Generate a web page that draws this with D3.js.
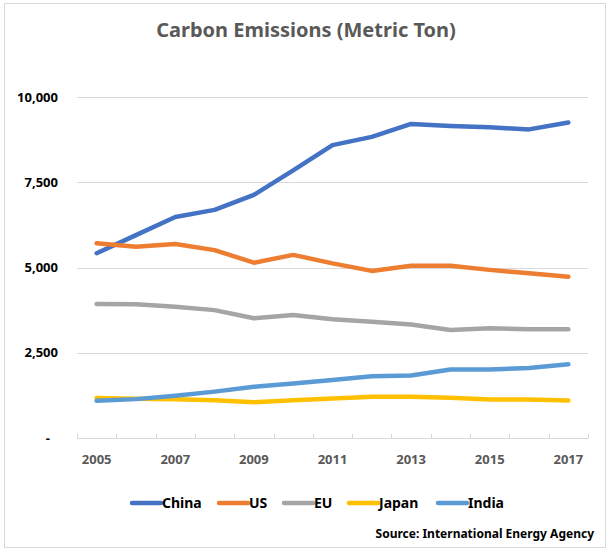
<!DOCTYPE html>
<html>
<head>
<meta charset="utf-8">
<script src="https://cdn.jsdelivr.net/npm/d3@7"></script>
<style>
  body { margin: 0; background: #fff; }
  text { font-family: "Noto Sans", sans-serif; font-weight: bold; }
</style>
</head>
<body>
<div id="chart"></div>
<script>
// data
const years = [2005, 2006, 2007, 2008, 2009, 2010, 2011, 2012, 2013, 2014, 2015, 2016, 2017];
const china = [5420, 5950, 6480, 6690, 7130, 7850, 8590, 8830, 9210, 9150, 9110, 9050, 9250];
const us    = [5710, 5610, 5690, 5510, 5140, 5370, 5120, 4900, 5050, 5050, 4930, 4830, 4730];
const eu    = [3930, 3920, 3850, 3750, 3510, 3610, 3480, 3410, 3330, 3170, 3220, 3190, 3190];
const japan = [1170, 1150, 1140, 1110, 1050, 1110, 1160, 1210, 1210, 1180, 1130, 1130, 1100];
const india = [1090, 1140, 1240, 1360, 1500, 1600, 1700, 1810, 1830, 2010, 2010, 2050, 2160];
const seriesNames = ["China", "US", "EU", "Japan", "India"];
const seriesColors = ["#4472C4", "#ED7D31", "#A5A5A5", "#FFC000", "#5B9BD5"];
const yTicks = [0, 2500, 5000, 7500, 10000];

const width = 611, height = 552;
const margin = { top: 97, right: 23, bottom: 114, left: 77 };
const innerW = width - margin.left - margin.right;
const innerH = height - margin.top - margin.bottom;

const svg = d3.select("#chart").append("svg")
    .attr("width", width)
    .attr("height", height);

// chart border
svg.append("rect")
    .attr("x", 4.5).attr("y", 3.5)
    .attr("width", 601).attr("height", 544)
    .attr("fill", "#fff")
    .attr("stroke", "#d9d9d9");

svg.append("text")
    .attr("x", 306).attr("y", 37)
    .attr("text-anchor", "middle")
    .attr("fill", "#595959")
    .style("font-size", "20px")
    .text("Carbon Emissions (Metric Ton)");

const g = svg.append("g")
    .attr("transform", "translate(" + margin.left + "," + margin.top + ")");

const x = d3.scaleBand().domain(years).range([0, innerW]);
const y = d3.scaleLinear().domain([0, 10000]).range([innerH, 0]);
const cx = d => x(d) + x.bandwidth() / 2;

// gridlines
g.append("g")
    .selectAll("line")
    .data(yTicks.filter(d => d > 0))
    .join("line")
    .attr("x1", 0).attr("x2", innerW)
    .attr("y1", d => Math.round(y(d)) + 0.5)
    .attr("y2", d => Math.round(y(d)) + 0.5)
    .attr("stroke", "#d9d9d9");

// y labels
g.append("g")
    .selectAll("text")
    .data(yTicks)
    .join("text")
    .attr("x", d => d === 0 ? -27 : -19)
    .attr("y", d => y(d))
    .attr("dy", "0.35em")
    .attr("text-anchor", "end")
    .attr("fill", "#000")
    .style("font-size", "13px")
    .text(d => d === 0 ? "-" : d3.format(",")(d));

// x axis line + ticks at band edges
const xAxis = g.append("g").attr("transform", "translate(0," + (Math.round(innerH) + 0.5) + ")");
xAxis.append("line")
    .attr("x1", 0).attr("x2", innerW)
    .attr("stroke", "#d9d9d9");
xAxis.selectAll(".tick")
    .data(years.map(d => x(d)).concat([innerW]))
    .join("line")
    .attr("class", "tick")
    .attr("x1", d => Math.round(d) + 0.5).attr("x2", d => Math.round(d) + 0.5)
    .attr("y1", -5).attr("y2", 0)
    .attr("stroke", "#d9d9d9");
xAxis.selectAll(".lbl")
    .data(years.filter(d => d % 2 === 1))
    .join("text")
    .attr("class", "lbl")
    .attr("x", cx)
    .attr("y", 21)
    .attr("dy", "0.35em")
    .attr("text-anchor", "middle")
    .attr("fill", "#595959")
    .style("font-size", "13px")
    .text(d => d);

// lines
const allSeries = [china, us, eu, japan, india];
const line = d3.line()
    .x((d, i) => cx(years[i]))
    .y(d => y(d));

g.append("g")
    .selectAll("path")
    .data(allSeries)
    .join("path")
    .attr("d", line)
    .attr("fill", "none")
    .attr("stroke", (d, i) => seriesColors[i])
    .attr("stroke-width", 4.5)
    .attr("stroke-linecap", "round")
    .attr("stroke-linejoin", "round");

// legend
const legendX = [132, 219, 284, 349, 438];
const legend = svg.append("g")
    .selectAll("g")
    .data(seriesNames)
    .join("g")
    .attr("transform", (d, i) => "translate(" + legendX[i] + ",503)");
legend.append("line")
    .attr("x1", 0).attr("x2", 29)
    .attr("stroke", (d, i) => seriesColors[i])
    .attr("stroke-width", 4.5)
    .attr("stroke-linecap", "round");
legend.append("text")
    .attr("x", 30)
    .attr("dy", "0.35em")
    .attr("fill", "#000")
    .style("font-size", "14px")
    .text(d => d);

svg.append("text")
    .attr("x", 594).attr("y", 534)
    .attr("dy", "0.35em")
    .attr("text-anchor", "end")
    .attr("fill", "#000")
    .style("font-size", "12px")
    .text("Source: International Energy Agency");
</script>
</body>
</html>
